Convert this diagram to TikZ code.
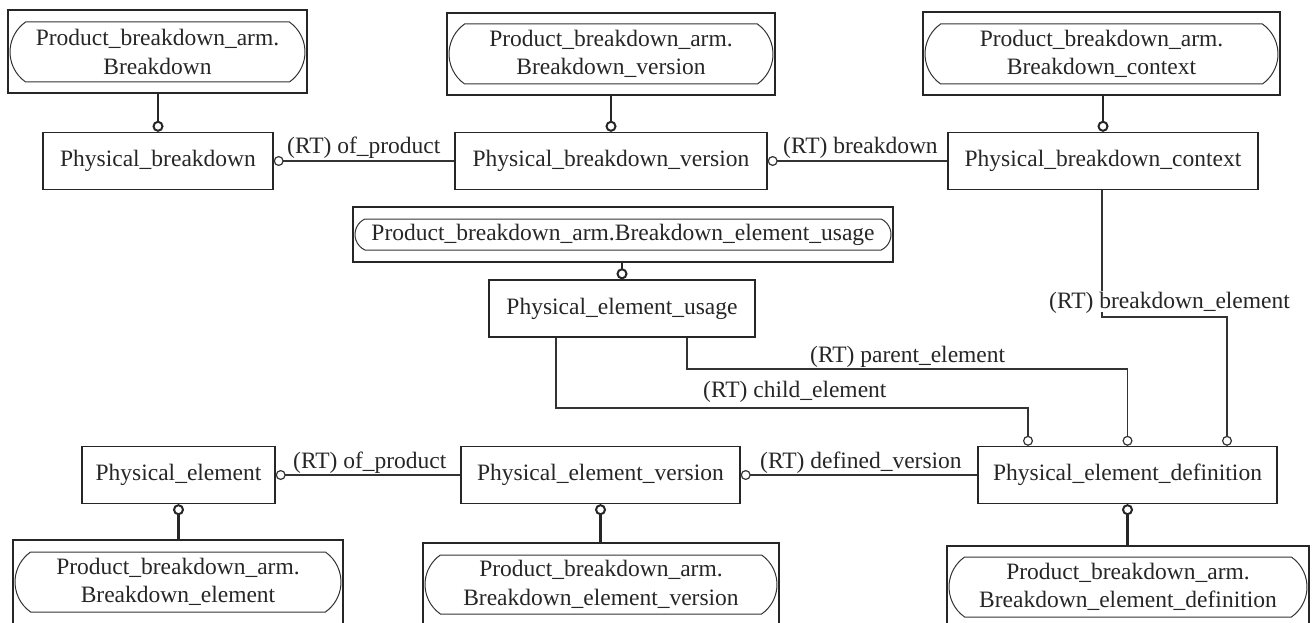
\documentclass[tikz,border=0pt]{standalone}
\usepackage{fontspec}
\setmainfont{Liberation Serif}
\usetikzlibrary{arrows.meta,calc,shapes.misc}
\begin{document}
\begin{tikzpicture}[x=1pt,y=-1pt,
  every node/.style={font=\fontsize{23.5}{28.5}\selectfont, text=black!85},
  ent/.style={draw=black!85, line width=1.4pt, minimum height=57pt, inner sep=0pt, minimum width=#1},
  armo/.style={draw=black!85, line width=1.4pt, inner sep=0pt},
  armi/.style={draw=black!80, line width=1pt, rounded rectangle, rounded rectangle arc length=#1, inner sep=0pt, align=center},
  lbl/.style={inner sep=0pt},
  sub/.style={line width=2.2pt, draw=black!85, -{Circle[open,length=11pt,width=11pt,line width=2pt]}},
  rt/.style={line width=1.1pt, draw=black!80, -{Circle[open,length=10pt,width=10pt,line width=1.2pt]}}
]
\useasboundingbox (0,0) rectangle (1316,623);

% entity boxes
\node[ent=230] (PB)  at (158,161) {Physical\_breakdown};
\node[ent=312] (PBV) at (611,161) {Physical\_breakdown\_version};
\node[ent=310] (PBC) at (1103,161) {Physical\_breakdown\_context};
\node[ent=266] (PEU) at (622,308.5) {Physical\_element\_usage};
\node[ent=193] (PE)  at (178.5,475) {Physical\_element};
\node[ent=279] (PEV) at (600.5,475) {Physical\_element\_version};
\node[ent=299] (PED) at (1127.5,475) {Physical\_element\_definition};

% arm boxes (outer + inner rounded)
\node[armo, minimum width=299pt, minimum height=83pt] (aA) at (157.5,51.5) {};
\node[armi=110, minimum width=295pt, minimum height=60pt] (aAi) at (157.5,52) {Product\_breakdown\_arm.\\Breakdown};
\node[armo, minimum width=328pt, minimum height=82pt] (aB) at (611,54) {};
\node[armi=110, minimum width=324pt, minimum height=60pt] (aBi) at (611,54) {Product\_breakdown\_arm.\\Breakdown\_version};
\node[armo, minimum width=357pt, minimum height=83pt] (aC) at (1101.5,53.5) {};
\node[armi=110, minimum width=353pt, minimum height=60pt] (aCi) at (1101.5,54) {Product\_breakdown\_arm.\\Breakdown\_context};
\node[armo, minimum width=540pt, minimum height=55pt] (aU) at (623,234.5) {};
\node[armi=130, minimum width=536pt, minimum height=31pt] (aUi) at (623,234.5) {Product\_breakdown\_arm.Breakdown\_element\_usage};
\node[armo, minimum width=330pt, minimum height=90pt] (aE) at (178,585) {};
\node[armi=110, minimum width=326pt, minimum height=60pt] (aEi) at (178,582) {Product\_breakdown\_arm.\\Breakdown\_element};
\node[armo, minimum width=356pt, minimum height=90pt] (aV) at (601,588) {};
\node[armi=110, minimum width=352pt, minimum height=59pt] (aVi) at (601,584.5) {Product\_breakdown\_arm.\\Breakdown\_element\_version};
\node[armo, minimum width=362pt, minimum height=90pt] (aD) at (1128,591) {};
\node[armi=110, minimum width=358pt, minimum height=60pt] (aDi) at (1128,587) {Product\_breakdown\_arm.\\Breakdown\_element\_definition};

% subtype connectors
\draw[sub] (aA.south -| PB) -- (PB.north);
\draw[sub] (aB.south -| PBV) -- (PBV.north);
\draw[sub] (aC.south -| PBC) -- (PBC.north);
\draw[sub] (aU.south -| PEU) -- (PEU.north);
\draw[sub] (aE.north -| PE) -- (PE.south);
\draw[sub] (aV.north -| PEV) -- (PEV.south);
\draw[sub] (aD.north -| PED) -- (PED.south);

% RT connectors
\draw[rt] (PBV.west) -- (PB.east);
\draw[rt] (PBC.west) -- (PBV.east);
\draw[rt] (PEV.west) -- (PE.east);
\draw[rt] (PED.west) -- (PEV.east);

\coordinate (ch1) at (556,408);
\coordinate (ch2) at (1028,408);
\draw[rt] (PEU.south -| ch1) -- (ch1) -- (ch2) -- (PED.north -| ch2);
\coordinate (pa1) at (687,369);
\coordinate (pa2) at (1127.5,369);
\draw[rt] (PEU.south -| pa1) -- (pa1) -- (pa2) -- (PED.north -| pa2);
\coordinate (be1) at (1102,317);
\coordinate (be2) at (1227,317);
\draw[rt] (PBC.south -| be1) -- (be1) -- (be2) -- (PED.north -| be2);

% labels
\node[lbl, anchor=base west] (l1) at (287,153) {(RT) of\_product};
\node[lbl, anchor=base west] (l2) at (783,153) {(RT) breakdown};
\node[lbl, anchor=base west] (l3) at (293,468) {(RT) of\_product};
\node[lbl, anchor=base west] (l4) at (760,468) {(RT) defined\_version};
\node[lbl, anchor=base west] (l5) at (810,362) {(RT) parent\_element};
\node[lbl, anchor=base west] (l6) at (703,397) {(RT) child\_element};
\node[lbl, anchor=base west, fill=white, inner sep=1pt, text depth=3pt] (l7) at (1048,308) {(RT) breakdown\_element};
\end{tikzpicture}
\end{document}
